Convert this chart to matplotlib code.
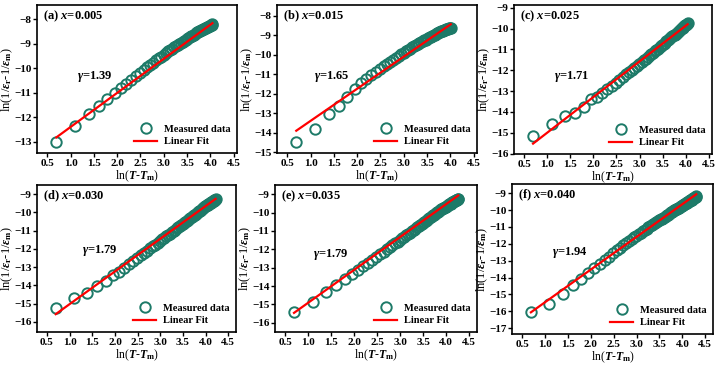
import numpy as np
import matplotlib.pyplot as plt

plt.rcParams['font.family'] = 'Liberation Serif'
plt.rcParams['font.weight'] = 'bold'
plt.rcParams['mathtext.fontset'] = 'custom'
plt.rcParams['mathtext.rm'] = 'Liberation Serif:bold'
plt.rcParams['mathtext.it'] = 'Liberation Serif:italic:bold'
plt.rcParams['mathtext.bf'] = 'Liberation Serif:bold'

# T - Tm offsets (K) for each composition
dT_a = list(range(2, 58))
dT_b = list(range(2, 56))
dT_c = list(range(2, 58))
dT_d = list(range(2, 69))
dT_e = list(range(2, 72))
dT_f = list(range(2, 75))

# measured ln(1/eps_r - 1/eps_m)
y_a = [-13.02, -12.33, -11.87, -11.52, -11.25, -11.02, -10.81, -10.63, -10.47, -10.33,
       -10.19, -10.07, -9.96, -9.86, -9.77, -9.68, -9.59, -9.52, -9.45, -9.38,
       -9.31, -9.26, -9.20, -9.15, -9.10, -9.05, -9.01, -8.96, -8.92, -8.88,
       -8.84, -8.80, -8.77, -8.73, -8.70, -8.67, -8.63, -8.60, -8.57, -8.54,
       -8.51, -8.49, -8.47, -8.44, -8.42, -8.40, -8.38, -8.36, -8.34, -8.32,
       -8.31, -8.29, -8.27, -8.25, -8.23, -8.21]
y_b = [-14.46, -13.81, -13.05, -12.63, -12.15, -11.75, -11.47, -11.24, -11.07, -10.90,
       -10.73, -10.59, -10.46, -10.36, -10.25, -10.16, -10.06, -9.97, -9.89, -9.82,
       -9.75, -9.69, -9.63, -9.57, -9.51, -9.46, -9.41, -9.36, -9.32, -9.27,
       -9.23, -9.19, -9.15, -9.11, -9.08, -9.04, -9.01, -8.97, -8.94, -8.91,
       -8.88, -8.85, -8.83, -8.80, -8.78, -8.76, -8.74, -8.72, -8.70, -8.68,
       -8.66, -8.64, -8.63, -8.62]
y_c = [-15.16, -14.60, -14.22, -14.07, -13.75, -13.37, -13.27, -13.08, -12.92, -12.76,
       -12.60, -12.48, -12.32, -12.19, -12.08, -11.98, -11.89, -11.79, -11.69, -11.61,
       -11.52, -11.45, -11.36, -11.29, -11.22, -11.15, -11.08, -11.02, -10.96, -10.90,
       -10.84, -10.78, -10.72, -10.67, -10.61, -10.56, -10.51, -10.47, -10.42, -10.37,
       -10.33, -10.29, -10.24, -10.20, -10.15, -10.11, -10.07, -10.03, -9.99, -9.95,
       -9.92, -9.88, -9.84, -9.81, -9.77, -9.73]
y_d = [-15.24, -14.69, -14.42, -14.05, -13.73, -13.45, -13.24, -13.02, -12.84, -12.65,
       -12.48, -12.32, -12.20, -12.09, -11.97, -11.86, -11.76, -11.66, -11.57, -11.48,
       -11.40, -11.31, -11.23, -11.16, -11.08, -11.01, -10.94, -10.88, -10.82, -10.75,
       -10.69, -10.63, -10.58, -10.52, -10.47, -10.41, -10.36, -10.31, -10.26, -10.21,
       -10.16, -10.12, -10.07, -10.03, -9.98, -9.94, -9.90, -9.86, -9.82, -9.78,
       -9.74, -9.71, -9.67, -9.64, -9.61, -9.58, -9.55, -9.52, -9.50, -9.47,
       -9.44, -9.42, -9.39, -9.37, -9.34, -9.32, -9.29]
y_e = [-15.42, -14.87, -14.33, -13.93, -13.63, -13.35, -13.14, -12.93, -12.73, -12.56,
       -12.40, -12.26, -12.13, -12.00, -11.89, -11.78, -11.68, -11.58, -11.49, -11.40,
       -11.32, -11.24, -11.16, -11.09, -11.02, -10.95, -10.88, -10.81, -10.74, -10.68,
       -10.62, -10.56, -10.50, -10.44, -10.39, -10.34, -10.29, -10.24, -10.20, -10.15,
       -10.11, -10.07, -10.03, -9.99, -9.95, -9.91, -9.87, -9.83, -9.80, -9.77,
       -9.74, -9.70, -9.68, -9.65, -9.62, -9.59, -9.56, -9.53, -9.51, -9.48,
       -9.45, -9.43, -9.41, -9.38, -9.36, -9.33, -9.31, -9.29, -9.27, -9.24]
y_f = [-16.06, -15.55, -14.98, -14.44, -14.08, -13.72, -13.43, -13.18, -12.97, -12.76,
       -12.57, -12.39, -12.24, -12.09, -11.96, -11.83, -11.72, -11.62, -11.52, -11.42,
       -11.33, -11.25, -11.17, -11.10, -11.03, -10.96, -10.89, -10.83, -10.77, -10.71,
       -10.65, -10.60, -10.55, -10.50, -10.45, -10.40, -10.35, -10.31, -10.26, -10.22,
       -10.18, -10.14, -10.10, -10.06, -10.02, -9.98, -9.95, -9.91, -9.88, -9.85,
       -9.81, -9.78, -9.74, -9.71, -9.69, -9.66, -9.62, -9.59, -9.57, -9.53,
       -9.51, -9.48, -9.45, -9.42, -9.39, -9.37, -9.34, -9.31, -9.29, -9.26,
       -9.23, -9.21, -9.18]

labels = ['(a)', '(b)', '(c)', '(d)', '(e)', '(f)']
compositions = ['0.005', '0.015', '0.025', '0.030', '0.035', '0.040']
gammas = [1.39, 1.65, 1.71, 1.79, 1.79, 1.94]
intercepts = [-13.78, -15.05, -16.707, -16.813, -16.70, -17.408]
ylims = [(-13.45, -7.42), (-15.05, -7.45), (-16.02, -8.87),
         (-16.55, -8.5), (-16.5, -8.5), (-17.35, -8.45)]

dts = [dT_a, dT_b, dT_c, dT_d, dT_e, dT_f]
ys = [y_a, y_b, y_c, y_d, y_e, y_f]

# axes boxes in pixels: left, top, right, bottom
boxes = [(37, 5, 237, 153), (277, 5, 477, 153), (514, 5, 712, 154),
         (37, 185, 236, 332), (275, 185, 477, 332), (512, 184, 713, 334)]
gam_pos = [(0.20, 0.52), (0.185, 0.52), (0.20, 0.52),
           (0.225, 0.553), (0.19, 0.53), (0.20, 0.54)]

W, H = 722, 365
fig = plt.figure(figsize=(W / 100, H / 100), dpi=100)

green = '#1d7a68'
for i in range(6):
    l, t, r, b = boxes[i]
    ax = fig.add_axes([l / W, 1 - b / H, (r - l) / W, (b - t) / H])
    x = np.log(dts[i])
    y = np.array(ys[i])
    ax.plot(x, y, 'o', ms=7.5, mfc='none', mec=green, mew=1.4, label='Measured data')
    xf = np.array([x[0], x[-1]])
    ax.plot(xf, intercepts[i] + gammas[i] * xf, '-', color='#ff0000', lw=1.6, label='Linear Fit')

    ax.set_xlim(0.28, 4.57 if i < 3 else 4.67)
    ax.set_ylim(*ylims[i])
    ax.set_xticks(np.arange(0.5, 4.51, 0.5))
    ax.set_xticklabels(['%.1f' % v for v in np.arange(0.5, 4.51, 0.5)])
    lo = int(np.ceil(ylims[i][0]))
    hi = int(np.floor(ylims[i][1]))
    ax.set_yticks(range(lo, hi + 1))
    ax.tick_params(direction='out', length=3, width=1, labelsize=8, pad=1)
    for s in ax.spines.values():
        s.set_linewidth(1.2)

    ax.set_xlabel(r'ln($T$-$T_{\rm m}$)', fontsize=8.5)
    ax.set_ylabel(r'ln(1/$\varepsilon_{\rm r}$-1/$\varepsilon_{\rm m}$)', fontsize=9)
    # place axis labels where the reference has them (pixel offsets from the frame)
    ax.xaxis.set_label_coords(0.5, -15.5 / (b - t))
    ax.yaxis.set_label_coords(-22 / (r - l), 0.5)

    ax.text(0.03, 0.925, labels[i] + r' $x$=' + compositions[i], transform=ax.transAxes,
            fontsize=9, va='center', ha='left')
    gx, gy = gam_pos[i]
    ax.text(gx, gy, r'$\gamma$=%.2f' % gammas[i], transform=ax.transAxes,
            fontsize=9, va='center', ha='left')
    ax.legend(loc='lower right', frameon=False, fontsize=7.5, handlelength=2.2,
              handletextpad=0.6, borderaxespad=0.25, labelspacing=0.3)

fig.savefig('out.png', dpi=100)
